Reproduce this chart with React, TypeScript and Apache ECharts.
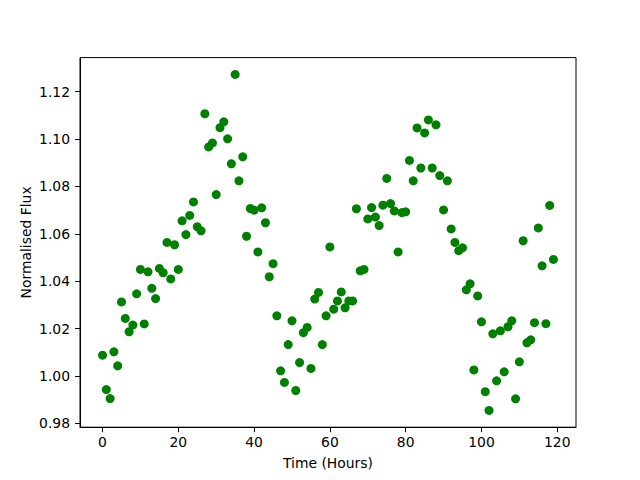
import React, { useEffect, useRef } from "react";
import * as echarts from "echarts";

const hours: number[] = [
  0, 1, 2, 3, 4, 5, 6, 7, 8, 9, 10, 11, 12, 13, 14, 15, 16, 17, 18, 19,
  20, 21, 22, 23, 24, 25, 26, 27, 28, 29, 30, 31, 32, 33, 34, 35, 36, 37, 38, 39,
  40, 41, 42, 43, 44, 45, 46, 47, 48, 49, 50, 51, 52, 53, 54, 55, 56, 57, 58, 59,
  60, 61, 62, 63, 64, 65, 66, 67, 68, 69, 70, 71, 72, 73, 74, 75, 76, 77, 78, 79,
  80, 81, 82, 83, 84, 85, 86, 87, 88, 89, 90, 91, 92, 93, 94, 95, 96, 97, 98, 99,
  100, 101, 102, 103, 104, 105, 106, 107, 108, 109, 110, 111, 112, 113, 114, 115, 116, 117, 118, 119,
];

const flux: number[] = [
  1.0088, 0.9943, 0.9905, 1.0102, 1.0043, 1.0313, 1.0243, 1.0187, 1.0215, 1.0347,
  1.045, 1.022, 1.044, 1.037, 1.0327, 1.0454, 1.0436, 1.0564, 1.041, 1.0554,
  1.045, 1.0655, 1.0597, 1.0678, 1.0735, 1.063, 1.0613, 1.1107, 1.0967, 1.0984,
  1.0766, 1.1048, 1.1073, 1.1001, 1.0896, 1.1273, 1.0824, 1.0925, 1.059, 1.0707,
  1.07, 1.0524, 1.071, 1.0647, 1.0419, 1.0474, 1.0254, 1.0022, 0.9973, 1.0133,
  1.0233, 0.9939, 1.0057, 1.0183, 1.0205, 1.0032, 1.0325, 1.0353, 1.0133, 1.0254,
  1.0545, 1.0282, 1.0317, 1.0355, 1.0288, 1.0317, 1.0317, 1.0706, 1.0444, 1.045,
  1.0663, 1.0711, 1.0671, 1.0635, 1.0721, 1.0834, 1.0728, 1.0697, 1.0524, 1.069,
  1.0693, 1.091, 1.0824, 1.1047, 1.0878, 1.1026, 1.1081, 1.0878, 1.106, 1.0846,
  1.0701, 1.0824, 1.0621, 1.0564, 1.0529, 1.0541, 1.0364, 1.0389, 1.0026, 1.0338,
  1.0229, 0.9934, 0.9855, 1.0178, 0.998, 1.0191, 1.0018, 1.0208, 1.0233, 0.9904,
  1.006, 1.0571, 1.014, 1.0153, 1.0225, 1.0625, 1.0465, 1.0221, 1.072, 1.0492,
];

const xTicks: number[] = [0, 20, 40, 60, 80, 100, 120];
const yTicks: number[] = [0.98, 1.0, 1.02, 1.04, 1.06, 1.08, 1.1, 1.12];

const xTitle = "Time (Hours)";
const yTitle = "Normalised Flux";

const FONT = "DejaVu Sans";
const FS = 13.9;

export default function App() {
  const ref = useRef<HTMLDivElement>(null);

  useEffect(() => {
    if (!ref.current) return;
    const chart = echarts.init(ref.current, undefined, { renderer: "svg" });
    const points = hours.map((h, i) => [h, flux[i]]);
    const xPad = (hours[hours.length - 1] - hours[0]) * 0.05;
    const fMin = Math.min(...flux);
    const fMax = Math.max(...flux);
    const yPad = (fMax - fMin) * 0.05;

    chart.setOption({
      animation: false,
      backgroundColor: "#ffffff",
      grid: {
        left: 80,
        right: 64,
        top: 57.6,
        bottom: 52.8,
        show: true,
        borderColor: "#000000",
        borderWidth: 1,
        backgroundColor: "transparent",
      },
      xAxis: {
        type: "value",
        min: hours[0] - xPad,
        max: hours[hours.length - 1] + xPad,
        name: xTitle,
        nameLocation: "middle",
        nameGap: 29,
        nameMoveOverlap: false,
        nameTextStyle: { fontFamily: FONT, fontSize: FS, color: "#000" },
        axisLine: { show: true, onZero: false, lineStyle: { color: "#000", width: 1 } },
        axisTick: {
          show: true,
          length: 5,
          inside: false,
          customValues: xTicks,
          lineStyle: { color: "#000", width: 1 },
        },
        axisLabel: {
          customValues: xTicks,
          margin: 8,
          fontFamily: FONT,
          fontSize: FS,
          color: "#000",
          formatter: (v: number) => String(v),
        },
        splitLine: { show: false },
      },
      yAxis: {
        type: "value",
        min: fMin - yPad,
        max: fMax + yPad,
        name: yTitle,
        nameLocation: "middle",
        nameGap: 47,
        nameMoveOverlap: false,
        nameTextStyle: { fontFamily: FONT, fontSize: FS, color: "#000" },
        axisLine: { show: true, onZero: false, lineStyle: { color: "#000", width: 1 } },
        axisTick: {
          show: true,
          length: 5,
          inside: false,
          customValues: yTicks,
          lineStyle: { color: "#000", width: 1 },
        },
        axisLabel: {
          customValues: yTicks,
          margin: 10,
          fontFamily: FONT,
          fontSize: FS,
          color: "#000",
          formatter: (v: number) => v.toFixed(2),
        },
        splitLine: { show: false },
      },
      series: [
        {
          type: "scatter",
          data: points,
          symbol: "circle",
          symbolSize: 9,
          itemStyle: { color: "#008000", opacity: 1 },
        },
      ],
    });

    return () => {
      chart.dispose();
    };
  }, []);

  return (
    <div
      ref={ref}
      style={{ position: "fixed", left: 0, top: 0, width: 640, height: 480, background: "#fff" }}
    />
  );
}
